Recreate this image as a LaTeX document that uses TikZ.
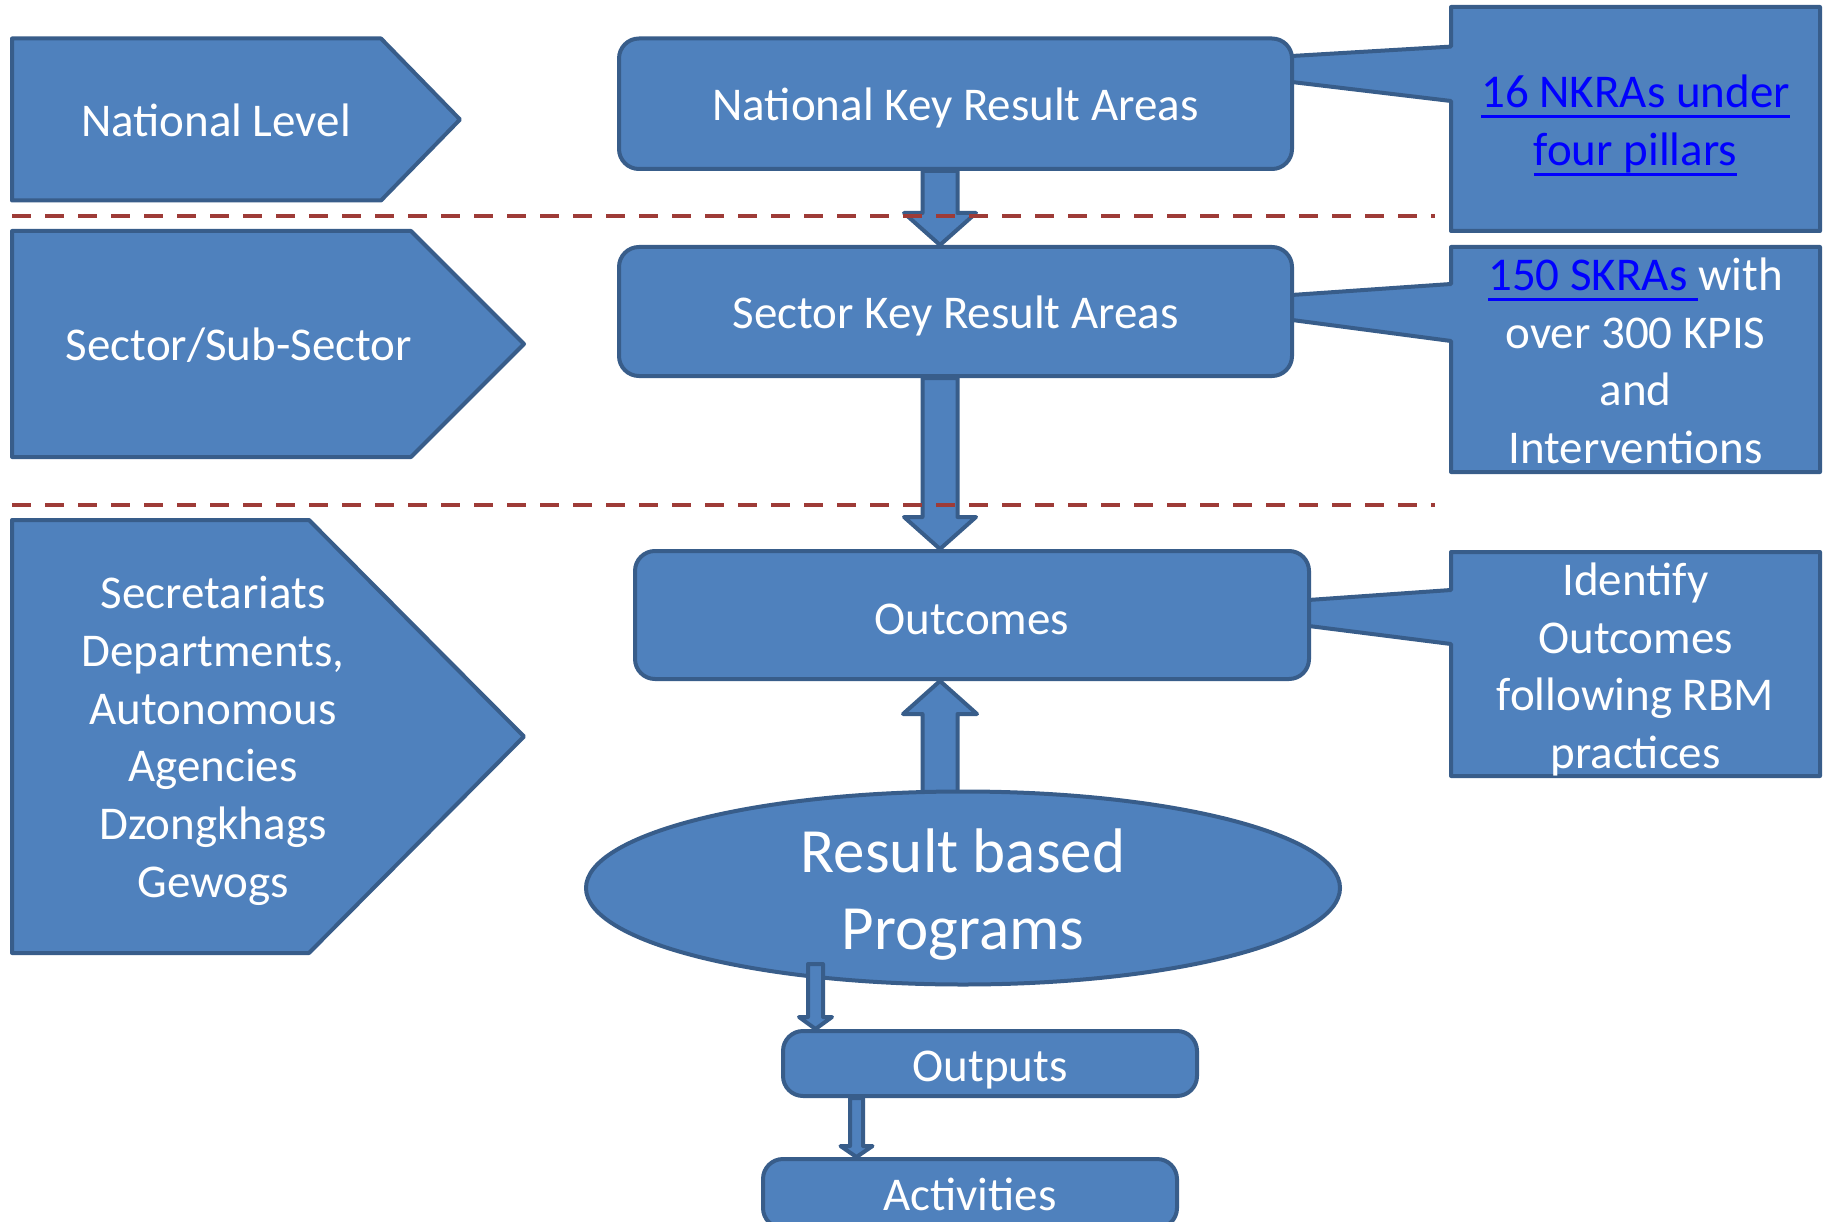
\documentclass[tikz,border=0pt]{standalone}
\usepackage{fontspec}
\setmainfont{Carlito}
\usetikzlibrary{calc,shapes.geometric}
\definecolor{fillb}{HTML}{4F81BD}
\definecolor{lineb}{HTML}{385D8A}
\definecolor{dashr}{HTML}{9E3B37}
\definecolor{linkb}{HTML}{0000FF}
\newcommand{\fsA}{\fontsize{47}{57.7}\selectfont}
\newcommand{\fsB}{\fontsize{63}{77}\selectfont}
\newcommand{\ulk}[1]{\setbox0\hbox{#1}\rlap{\rule[-10pt]{\wd0}{3pt}}\box0}
\newcommand{\barrow}[5]{%
  \coordinate (hb) at ($(#2)!#5!(#1)$);
  \draw[blk] ($(#1)+(-#3,0)$) -- ($(hb)+(-#3,0)$) -- ($(hb)+(-#4,0)$) -- (#2)
    -- ($(hb)+(#4,0)$) -- ($(hb)+(#3,0)$) -- ($(#1)+(#3,0)$) -- cycle;}
\pgfdeclarelayer{bg}
\pgfsetlayers{bg,main}
\begin{document}
\begin{tikzpicture}[x=1pt,y=-1pt,
  blk/.style={fill=fillb, draw=lineb, line width=4pt, line join=round},
  rbox/.style={blk, rectangle, rounded corners=20pt, inner sep=0pt},
  txt/.style={text=white, font=\fsA, align=center, inner sep=0pt, yshift=-4pt},
  dashline/.style={draw=dashr, line width=4pt, dash pattern=on 19pt off 14pt}]
\clip (0,0) rectangle (1827,1222);
\begin{pgfonlayer}{bg}
\fill[white] (0,0) rectangle (1827,1222);
\end{pgfonlayer}

% left level pentagons
\draw[blk] (12,38.5) -- (381,38.5) -- (460,119.5) -- (381,200.5) -- (12,200.5) -- cycle;
\node[txt] (natl) at (216,116) {National Level};
\draw[blk] (12,231) -- (411,231) -- (524,344) -- (411,457) -- (12,457) -- cycle;
\node[txt] (sect) at (239,341) {Sector/Sub-Sector};
\draw[blk] (12,520) -- (309,520) -- (524,736.5) -- (309,953) -- (12,953) -- cycle;
\node[txt] (agen) at (213,737) {Secretariats\\Departments,\\Autonomous\\Agencies\\Dzongkhags\\Gewogs};

% callouts
\draw[blk] (1451,7) -- (1820,7) -- (1820,231) -- (1451,231) -- (1451,101) -- (1280,80.6) -- (1280,56.7) -- (1451,46.6) -- cycle;
\node[txt] (c1) at (1635.5,121.5) {\textcolor{linkb}{\ulk{16 NKRAs under}}\\\textcolor{linkb}{\ulk{four pillars}}};
\draw[blk] (1451,247) -- (1820,247) -- (1820,472) -- (1451,472) -- (1451,341) -- (1280,318.4) -- (1280,295.8) -- (1451,284) -- cycle;
\node[txt] (c2) at (1635.5,357) {\textcolor{linkb}{\ulk{150 SKRAs\ }}with\\over 300 KPIS\\and\\Interventions};
\draw[blk] (1451,552) -- (1820,552) -- (1820,776) -- (1451,776) -- (1451,644) -- (1297,624.5) -- (1297,600.8) -- (1451,590) -- cycle;
\node[txt] (c3) at (1635.5,665.5) {Identify\\Outcomes\\following RBM\\practices};

% main boxes
\node[rbox, minimum width=673, minimum height=130.5] (nkra) at (955.5,103.75) {};
\node[txt] (nkrat) at (nkra.center) {National Key Result Areas};
\node[rbox, minimum width=673, minimum height=129] (skra) at (955.5,311.5) {};
\node[txt] (skrat) at (skra.center) {Sector Key Result Areas};
\node[rbox, minimum width=674, minimum height=128] (outc) at (972,615) {};
\node[txt] (outct) at (outc.center) {Outcomes};
\node[rbox, minimum width=414, minimum height=65] (outp) at (990,1063.5) {};
\node[txt, yshift=-2.5pt] (outpt) at (outp.center) {Outputs};
\node[rbox, minimum width=414, minimum height=69] (act) at (970,1193.5) {};
\node[txt, yshift=3.5pt] (actt) at (act.center) {Activities};
\node[blk, ellipse, inner sep=0pt, minimum width=754, minimum height=193] (prog) at (963,888) {};
\node[txt, font=\fsB] (progt) at (963,890.5) {Result based\\Programs};

% block arrows
\coordinate (a1s) at ($(nkra.south)+(-15.5,0)$);
\coordinate (a1e) at (a1s |- skra.north);
\coordinate (a2s) at ($(skra.south)+(-15.5,0)$);
\coordinate (a2e) at (a2s |- outc.north);
\coordinate (a3e) at ($(outc.south)+(-32,0)$);
\coordinate (a3s) at ($(a3e |- prog.north)+(0,6)$);
\coordinate (a5s) at ($(outp.south)+(-133.5,0)$);
\coordinate (a5e) at (a5s |- act.north);
\begin{pgfonlayer}{bg}
\barrow{a1s}{a1e}{17.5}{36}{32pt}
\barrow{a2s}{a2e}{17.5}{36}{32pt}
\barrow{a3s}{a3e}{17.5}{37}{33pt}
\barrow{a5s}{a5e}{6.5}{16}{11pt}
\end{pgfonlayer}
\coordinate (a4e) at ($(outp.north)+(-174.5,0)$);
\coordinate (a4s) at ($(a4e)+(0,-65)$);
\barrow{a4s}{a4e}{7.5}{16.5}{12pt}

% level separators
\draw[dashline] (12,215.6) -- (1435,215.6);
\draw[dashline] (12,504.5) -- (1435,504.5);
\end{tikzpicture}
\end{document}
